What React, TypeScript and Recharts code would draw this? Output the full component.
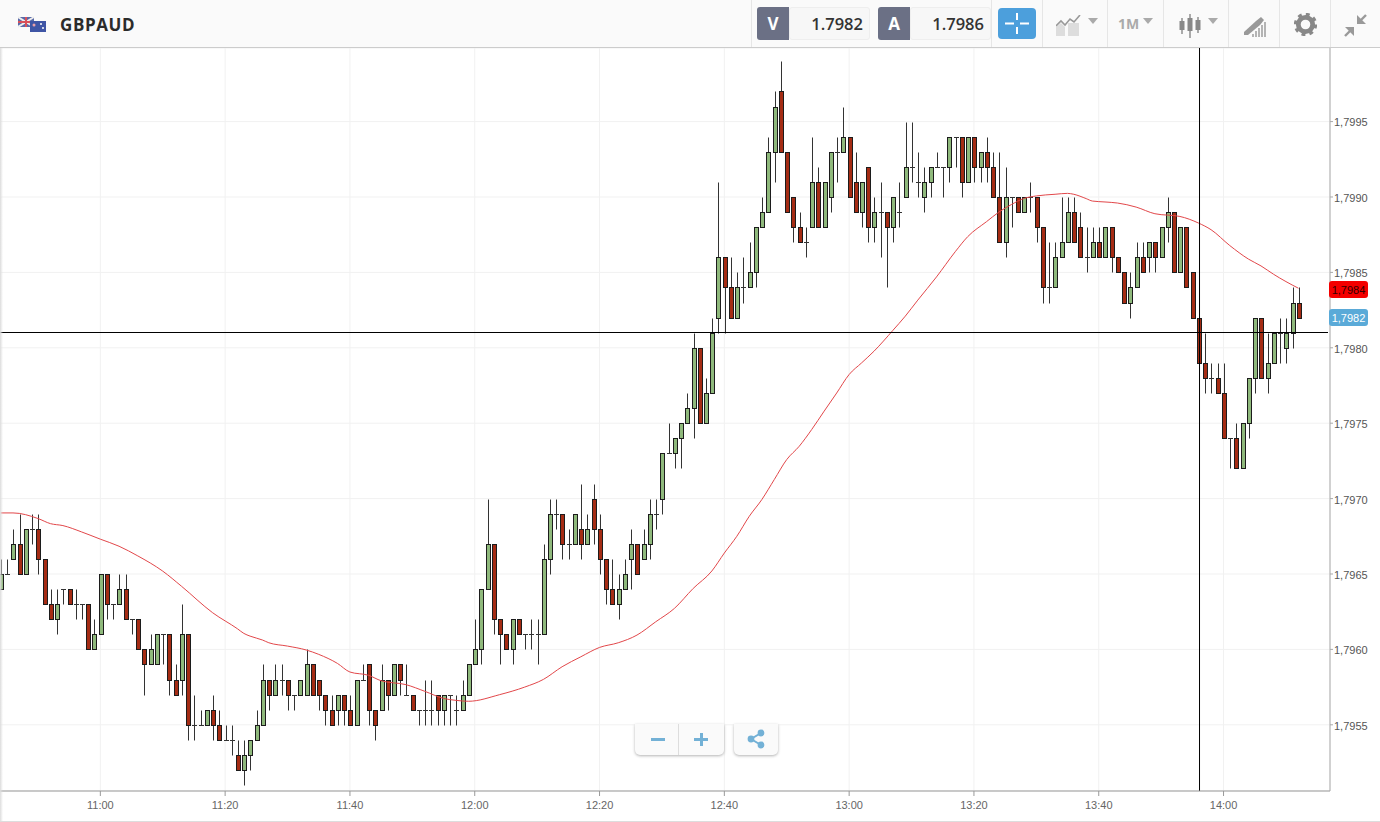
import { ComposedChart, Bar, Line, XAxis, YAxis, CartesianGrid, ReferenceLine } from 'recharts';

// prices are kept as the last three digits: 964 = 1,7964
const opens = [
  964, 965, 966, 967, 965, 968, 968, 966, 963, 962, 964, 964, 963, 963, 963, 960, 961, 965, 963, 963,
  964, 962, 962, 960, 959, 959, 961, 961, 958, 958, 961, 955, 955, 955, 956, 955, 954, 954, 953, 952,
  953, 954, 955, 958, 957, 958, 958, 957, 957, 957, 959, 958, 957, 956, 956, 957, 956, 955, 958, 959,
  956, 956, 958, 957, 959, 957, 957, 956, 956, 956, 957, 956, 957, 956, 956, 957, 959, 960, 964, 967,
  962, 961, 960, 962, 961, 961, 961, 961, 966, 969, 969, 967, 967, 968, 967, 970, 968, 966, 964, 963,
  964, 966, 967, 966, 967, 969, 970, 973, 973, 974, 975, 976, 980, 975, 977, 982, 986, 984, 982, 984,
  984, 985, 988, 989, 993, 997, 993, 990, 988, 987, 988, 991, 988, 990, 993, 993, 994, 991, 989, 992,
  988, 989, 989, 988, 989, 990, 992, 991, 990, 991, 992, 992, 992, 994, 994, 991, 994, 992, 993, 992,
  990, 987, 990, 990, 989, 990, 990, 988, 984, 984, 986, 987, 989, 988, 986, 986, 987, 986, 988, 986,
  985, 983, 984, 986, 986, 987, 986, 988, 989, 985, 988, 985, 982, 979, 978, 978, 977, 974, 974, 972,
  975, 978, 982, 978, 979, 981, 980, 981, 983,
];
const highs = [
  966, 966, 968, 969, 968, 969, 969, 966, 964, 964, 964, 964, 964, 963, 963, 962, 965, 965, 963, 965,
  965, 962, 962, 960, 961, 961, 961, 961, 959, 963, 961, 957, 956, 956, 957, 956, 955, 955, 954, 954,
  954, 956, 959, 958, 959, 959, 958, 957, 958, 960, 959, 958, 957, 957, 957, 957, 957, 958, 959, 959,
  956, 959, 958, 959, 959, 959, 957, 956, 958, 958, 957, 957, 957, 957, 958, 959, 962, 964, 970, 967,
  962, 961, 962, 962, 961, 962, 962, 967, 970, 970, 969, 968, 969, 971, 969, 971, 969, 966, 966, 965,
  966, 968, 967, 968, 970, 970, 973, 975, 974, 975, 977, 981, 980, 978, 982, 991, 986, 986, 985, 986,
  987, 988, 990, 994, 997, 999, 993, 990, 989, 988, 994, 992, 991, 993, 994, 996, 994, 993, 991, 992,
  990, 991, 989, 990, 991, 995, 995, 993, 992, 992, 993, 992, 994, 994, 994, 994, 994, 993, 994, 993,
  993, 992, 990, 990, 990, 991, 990, 988, 987, 987, 990, 990, 990, 989, 988, 988, 988, 988, 988, 986,
  985, 985, 987, 987, 987, 987, 988, 990, 989, 988, 988, 985, 982, 981, 979, 979, 979, 974, 975, 975,
  978, 982, 982, 981, 981, 982, 982, 984, 984,
];
const lows = [
  964, 965, 966, 965, 965, 967, 965, 963, 962, 961, 963, 963, 962, 962, 960, 960, 961, 962, 962, 963,
  962, 961, 960, 957, 959, 959, 959, 957, 957, 957, 954, 954, 955, 955, 954, 954, 954, 953, 952, 951,
  952, 954, 955, 956, 957, 957, 956, 956, 957, 957, 957, 956, 955, 955, 955, 955, 955, 955, 958, 955,
  954, 956, 956, 957, 957, 957, 956, 955, 955, 955, 955, 955, 955, 955, 956, 957, 959, 959, 964, 961,
  959, 960, 959, 961, 960, 960, 959, 961, 965, 968, 966, 966, 967, 966, 967, 967, 965, 963, 963, 962,
  964, 964, 965, 966, 966, 968, 969, 973, 972, 972, 975, 974, 975, 975, 977, 981, 981, 982, 982, 983,
  984, 984, 988, 989, 991, 993, 989, 987, 987, 986, 988, 988, 988, 989, 991, 993, 990, 989, 988, 987,
  987, 986, 984, 987, 988, 990, 991, 990, 989, 990, 992, 990, 991, 992, 990, 991, 991, 991, 991, 990,
  987, 986, 988, 989, 989, 989, 987, 983, 983, 984, 986, 987, 987, 986, 985, 986, 986, 986, 985, 985,
  983, 982, 984, 985, 985, 985, 986, 987, 985, 985, 984, 982, 979, 977, 977, 977, 974, 972, 972, 972,
  974, 977, 978, 977, 979, 979, 979, 980, 982,
];
const closes = [
  965, 965, 967, 965, 968, 968, 966, 963, 962, 963, 964, 963, 963, 963, 960, 961, 965, 963, 963, 964,
  962, 962, 960, 959, 960, 961, 961, 958, 957, 961, 955, 955, 955, 956, 955, 954, 954, 954, 952, 953,
  954, 955, 958, 957, 958, 958, 957, 957, 958, 959, 957, 957, 956, 955, 957, 956, 955, 958, 958, 956,
  955, 958, 957, 959, 958, 957, 956, 956, 956, 956, 956, 957, 957, 956, 957, 959, 960, 964, 967, 962,
  961, 960, 962, 961, 961, 961, 961, 966, 969, 969, 967, 967, 969, 967, 968, 968, 966, 964, 963, 964,
  965, 967, 965, 967, 969, 969, 973, 973, 974, 975, 976, 980, 975, 977, 981, 986, 984, 982, 984, 984,
  985, 988, 989, 993, 996, 993, 989, 988, 987, 987, 991, 988, 991, 993, 993, 994, 990, 989, 991, 988,
  989, 989, 988, 990, 989, 992, 992, 991, 991, 992, 992, 992, 994, 994, 991, 994, 992, 993, 992, 990,
  987, 990, 990, 989, 990, 990, 988, 984, 984, 986, 987, 989, 987, 986, 986, 987, 986, 988, 986, 985,
  983, 984, 986, 985, 987, 986, 988, 989, 985, 988, 984, 982, 979, 978, 978, 977, 974, 974, 972, 975,
  978, 982, 978, 979, 981, 981, 981, 983, 982,
];

// moving average at these candles
const maCandles = [
  0, 2, 6, 8, 10, 13, 16, 19, 22, 26, 29, 34, 38, 39, 40, 42, 43, 46, 49, 51, 54, 56, 59, 61, 65, 68, 71, 73, 75, 80,
  84, 87, 90, 93, 96, 99, 102, 105, 108, 111, 114, 116, 118, 120, 122, 124, 126, 128, 130, 132, 134, 136, 138, 140,
  143, 145, 147, 150, 153, 155, 158, 160, 162, 164, 166, 169, 171, 172, 174, 175, 177, 179, 182, 185, 189, 192, 194,
  197, 200, 202, 204, 206, 208,
];
const maValues = [
  969.05, 969.05, 968.68, 968.34, 968.21, 967.79, 967.31, 966.84, 966.2, 965.19, 964.19, 962.43, 961.36, 961.06,
  960.88, 960.62, 960.44, 960.22, 959.96, 959.67, 959.07, 958.5, 958.28, 957.92, 957.66, 957.22, 956.75, 956.62,
  956.56, 957.0, 957.5, 958.01, 958.85, 959.51, 960.13, 960.44, 960.95, 961.83, 962.72, 964.04, 965.2, 966.39, 967.5,
  968.83, 969.93, 971.26, 972.59, 973.47, 974.58, 975.8, 977.0, 978.23, 979.0, 979.78, 981.15, 982.1, 983.16, 984.7,
  986.37, 987.37, 988.36, 989.0, 989.5, 989.9, 990.07, 990.18, 990.24, 990.18, 989.89, 989.73, 989.67, 989.6, 989.33,
  988.89, 988.71, 988.27, 987.83, 986.78, 985.88, 985.43, 984.88, 984.39, 983.95,
];

const priceTicks = [955, 960, 965, 970, 975, 980, 985, 990, 995];
const timeTicks = [16, 36, 56, 76, 96, 116, 136, 156, 176, 196];
const timeLabels = ['11:00', '11:20', '11:40', '12:00', '12:20', '12:40', '13:00', '13:20', '13:40', '14:00'];
const crossTime = 192.15;
const crossPrice = 981.014;
const crossEnd = 212.74;

const rows = opens.map((open, i) => ({
  t: i,
  open,
  close: closes[i],
  high: highs[i],
  low: lows[i],
  range: [lows[i], highs[i]],
  ma: maCandles.includes(i) ? maValues[maCandles.indexOf(i)] : null,
}));

function Candle(props: any) {
  const { x, y, width, height, payload } = props;
  const perPip = Math.abs(height) / (payload.high - payload.low);
  const top = Math.min(y, y + height);
  const yOf = (v: number) => Math.round(top + (payload.high - v) * perPip) + 0.5;
  const cx = Math.round(x + width / 2) + 0.5;
  const bodyTop = yOf(Math.max(payload.open, payload.close));
  const bodyBottom = yOf(Math.min(payload.open, payload.close));
  const up = payload.close > payload.open;
  return (
    <g>
      <line x1={cx} x2={cx} y1={yOf(payload.high)} y2={yOf(payload.low)} stroke="#333" strokeWidth={1} />
      {payload.open === payload.close ? (
        <line x1={cx - 2.5} x2={cx + 2.5} y1={bodyTop} y2={bodyTop} stroke="#333" strokeWidth={1} />
      ) : (
        <rect
          x={cx - 2}
          y={bodyTop}
          width={4}
          height={bodyBottom - bodyTop}
          fill={up ? '#8fb97c' : '#a52c14'}
          stroke="#1c1c1c"
          strokeWidth={1}
        />
      )}
    </g>
  );
}

const box = (left: number, top: number, width: number, height: number, extra: any = {}): any => ({
  position: 'absolute',
  left,
  top,
  width,
  height,
  ...extra,
});

function Caret({ x }: { x: number }) {
  return (
    <svg style={box(x, 18, 10, 6)} viewBox="0 0 10 6">
      <path d="M0 0H10L5 6Z" fill="#aaa" />
    </svg>
  );
}

function Quote({ x, letter, value, width }: { x: number; letter: string; value: string; width: number }) {
  return (
    <>
      <div style={box(x + 32, 7, width, 33, { background: '#f7f7f7', border: '1px solid #eee', borderRadius: 3, boxSizing: 'border-box' })} />
      <div
        style={box(x, 7, 32, 33, {
          background: '#6b7085',
          color: '#fff',
          borderRadius: '3px 0 0 3px',
          textAlign: 'center',
          fontWeight: 700,
          fontSize: 17,
          lineHeight: '34px',
        })}
      >
        {letter}
      </div>
      <div style={box(x + 32, 7, width - 7, 33, { textAlign: 'right', fontSize: 16.5, fontWeight: 600, color: '#333', lineHeight: '34px' })}>
        {value}
      </div>
    </>
  );
}

function Toolbar() {
  const separators = [751, 991, 1042, 1107, 1163, 1228, 1279, 1330];
  return (
    <div style={box(0, 0, 1380, 48, { background: '#fafafa', borderBottom: '1px solid #ccc', boxSizing: 'border-box', fontFamily: '"Open Sans"' })}>
      <svg style={box(18, 16, 29, 16)} viewBox="0 0 29 16">
        <rect x="0" y="1" width="16" height="10" fill="#5a6aa8" />
        <path d="M0 1L16 11M16 1L0 11" stroke="#eee" strokeWidth="2" />
        <path d="M8 1V11M0 6H16" stroke="#d8505a" strokeWidth="2" />
        <rect x="12" y="5" width="16" height="11" fill="#3f55a5" />
        <circle cx="16" cy="9" r="1.5" fill="#e8a0a8" />
        <circle cx="23" cy="8" r="1" fill="#fff" />
        <circle cx="25" cy="12" r="1" fill="#fff" />
      </svg>
      <div style={box(60, 13, 90, 24, { fontSize: 17, fontWeight: 700, color: '#2b2b2b', lineHeight: '24px', letterSpacing: 0.6 })}>GBPAUD</div>
      {separators.map((x) => (
        <div key={x} style={box(x, 0, 1, 47, { background: '#e6e6e6' })} />
      ))}
      <Quote x={757} letter="V" value="1.7982" width={81} />
      <Quote x={878} letter="A" value="1.7986" width={81} />
      <div style={box(998, 8, 38, 31, { background: '#4c9fdc', borderRadius: 4 })}>
        <svg style={box(7, 5, 24, 21)} viewBox="0 0 24 21">
          <path d="M0 10.5H9M15 10.5H24M12 0V7M12 14V21" stroke="#fff" strokeWidth="2" />
        </svg>
      </div>
      <svg style={box(1056, 15, 26, 22)} viewBox="0 0 26 22">
        <path d="M0 21V12L5 8L9 12V21Z M12 21V8H23V21Z" fill="#ddd" />
        <path d="M0 11L5 6L9 10L14 4L18 7L24 0" stroke="#999" strokeWidth="1.6" fill="none" />
      </svg>
      <Caret x={1088} />
      <div style={box(1118, 14, 26, 20, { fontSize: 14, fontWeight: 700, color: '#aaa', lineHeight: '20px' })}>1M</div>
      <Caret x={1143} />
      <svg style={box(1178, 14, 24, 24)} viewBox="0 0 24 24">
        <path d="M4 4V20M12 0V24M20 3V19" stroke="#888" strokeWidth="1.4" />
        <rect x="1.5" y="7" width="5" height="9" fill="#888" />
        <rect x="9.5" y="4" width="5" height="13" fill="#888" />
        <rect x="17.5" y="6" width="5" height="10" fill="#888" />
      </svg>
      <Caret x={1208} />
      <svg style={box(1244, 17, 22, 20)} viewBox="0 0 22 20">
        <path d="M0 15L12 4L17 0L20 3L16 8L4 18H0Z" fill="#999" />
        <path d="M8 20H10V17H8ZM11 20H13V14H11ZM14 20H16V11H14ZM17 20H19V8H17ZM20 20H22V5H20Z" fill="#b4b4b4" />
      </svg>
      <svg style={box(1294, 13, 23, 23)} viewBox="0 0 24 24">
        <circle cx="12" cy="12" r="7.5" fill="none" stroke="#888" strokeWidth="5" />
        <circle cx="12" cy="12" r="10.5" fill="none" stroke="#888" strokeWidth="3.4" strokeDasharray="4 4.25" />
      </svg>
      <svg style={box(1344, 14, 23, 23)} viewBox="0 0 23 23">
        <path d="M13 1V10H22Z" fill="#999" />
        <path d="M14 9L22 1" stroke="#999" strokeWidth="2.4" />
        <path d="M10 22V13H1Z" fill="#999" />
        <path d="M9 14L1 22" stroke="#999" strokeWidth="2.4" />
      </svg>
    </div>
  );
}

function ZoomButtons() {
  const card = { background: '#fafafa', borderRadius: '0 0 5px 5px', boxShadow: '0 1px 3px rgba(0,0,0,0.3)' };
  return (
    <>
      <div style={box(635, 724, 89, 31, card)}>
        <div style={box(43, 0, 1, 31, { background: '#ddd' })} />
        <div style={box(16, 14, 14, 3, { background: '#73b1d6' })} />
        <div style={box(59, 14, 14, 3, { background: '#73b1d6' })} />
        <div style={box(64.5, 9, 3, 13, { background: '#73b1d6' })} />
      </div>
      <div style={box(734, 724, 44, 31, card)}>
        <svg style={box(13, 5, 18, 20)} viewBox="0 0 18 20">
          <path d="M14 4L4 10L14 16" stroke="#73b1d6" strokeWidth="2" fill="none" />
          <circle cx="14" cy="4" r="3.4" fill="#73b1d6" />
          <circle cx="4" cy="10" r="3.4" fill="#73b1d6" />
          <circle cx="14" cy="16" r="3.4" fill="#73b1d6" />
        </svg>
      </div>
    </>
  );
}

function PriceTag({ top, color, text, textColor }: { top: number; color: string; text: string; textColor: string }) {
  return (
    <div
      style={box(1329, top, 39, 17, {
        background: color,
        color: textColor,
        borderRadius: 3,
        fontFamily: '"Liberation Sans"',
        fontSize: 11,
        lineHeight: '18px',
        textAlign: 'center',
      })}
    >
      {text}
    </div>
  );
}

export default function App() {
  return (
    <div style={box(0, 0, 1380, 822, { background: '#fff', overflow: 'hidden' })}>
      <div style={box(0, 0, 1380, 822)}>
        <ComposedChart
          width={1380}
          height={822}
          data={rows}
          margin={{ top: 48, right: 0, bottom: 0, left: 0 }}
          barCategoryGap={0}
        >
          <CartesianGrid stroke="#f1f1f1" strokeWidth={1} />
          <XAxis
            dataKey="t"
            type="number"
            domain={[-0.08, 213.06]}
            allowDataOverflow
            ticks={timeTicks}
            tickFormatter={(v: number) => timeLabels[timeTicks.indexOf(v)]}
            height={31}
            tickSize={5}
            tickMargin={5}
            stroke="#999"
            tick={{ fill: '#666', fontSize: 11, fontFamily: '"Liberation Sans"' }}
          />
          <YAxis
            orientation="right"
            type="number"
            domain={[950.61, 999.88]}
            allowDataOverflow
            ticks={priceTicks}
            tickFormatter={(v: number) => `1,7${v}`}
            width={50}
            tickSize={3}
            tickMargin={1}
            stroke="#aaa"
            tick={{ fill: '#555', fontSize: 11, fontFamily: '"Liberation Sans"', dy: 1 }}
          />
          <Bar dataKey="range" barSize={5} shape={<Candle />} isAnimationActive={false} />
          <Line
            dataKey="ma"
            type="monotone"
            connectNulls
            dot={false}
            stroke="#e2474a"
            strokeWidth={1}
            isAnimationActive={false}
          />
          <ReferenceLine x={crossTime} stroke="#000" strokeWidth={1} />
          <ReferenceLine
            segment={[
              { x: -0.08, y: crossPrice },
              { x: crossEnd, y: crossPrice },
            ]}
            stroke="#000"
            strokeWidth={1}
          />
        </ComposedChart>
      </div>
      <div style={box(0, 0, 3, 822, { background: 'linear-gradient(to right, #ddd, rgba(255,255,255,0))' })} />
      <div style={box(0, 821, 1380, 1, { background: '#ddd' })} />
      <Toolbar />
      <ZoomButtons />
      <PriceTag top={281} color="#f40000" text="1,7984" textColor="#300" />
      <PriceTag top={309} color="#5aaad8" text="1,7982" textColor="#fff" />
    </div>
  );
}
